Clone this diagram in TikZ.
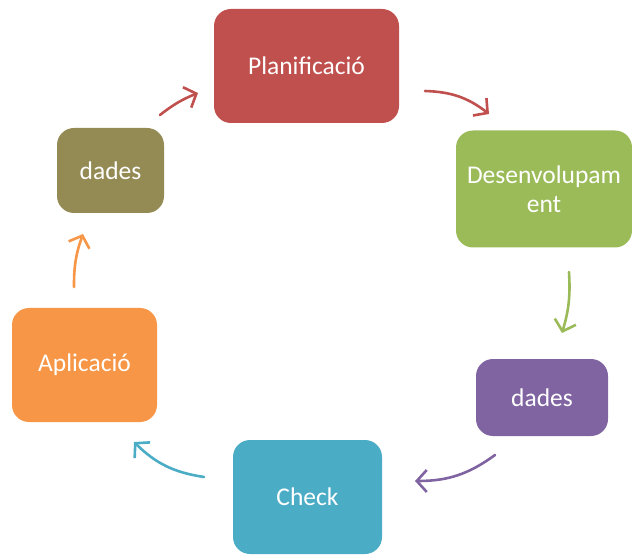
\documentclass[tikz,border=0pt]{standalone}
\usepackage{fontspec}
\setmainfont{Carlito}
\usetikzlibrary{arrows.meta}

\definecolor{cRed}{HTML}{C0504D}
\definecolor{cGreen}{HTML}{9BBB59}
\definecolor{cPurple}{HTML}{8064A2}
\definecolor{cBlue}{HTML}{4BACC6}
\definecolor{cOrange}{HTML}{F79646}
\definecolor{cOlive}{HTML}{948A54}

\tikzset{
  stage/.style={rounded corners=17pt, inner sep=0pt, text=white, align=center,
    font=\fontsize{25.5}{29}\selectfont},
  flow/.style={line width=2.6pt, line cap=round,
    -{Straight Barb[length=10pt,width=22pt,line width=2.6pt]}},
}

\begin{document}
\begin{tikzpicture}[x=1pt,y=1pt]
  \useasboundingbox (0,0) rectangle (632,555);

  % cycle stages
  \node[stage, fill=cRed,    minimum width=185pt, minimum height=114pt] (plan)   at (306.5,489)  {Planificació};
  \node[stage, fill=cGreen,  minimum width=176pt, minimum height=117pt] (des)    at (544,366)    {Desenvolupam\\ent};
  \node[stage, fill=cPurple, minimum width=132pt, minimum height=77pt]  (dadesB) at (542,157.5)  {dades};
  \node[stage, fill=cBlue,   minimum width=149pt, minimum height=114pt] (check)  at (307.5,58)   {Check};
  \node[stage, fill=cOrange, minimum width=145pt, minimum height=114pt] (aplic)  at (84.5,190)   {Aplicació};
  \node[stage, fill=cOlive,  minimum width=107pt, minimum height=85pt]  (dadesA) at (110.5,384.5) {dades};

  % arrow end points between the stages
  \coordinate (a1s) at (160,440); \coordinate (a1e) at (198,462);
  \coordinate (a2s) at (425,464); \coordinate (a2e) at (489,441);
  \coordinate (a3s) at (569,283); \coordinate (a3e) at (562,222);
  \coordinate (a4s) at (495,100); \coordinate (a4e) at (415,74);
  \coordinate (a5s) at (204,78);  \coordinate (a5e) at (134,113);
  \coordinate (a6s) at (74,268);  \coordinate (a6e) at (83,321);

  \draw[flow, cRed]    (a1s) to[bend left=8]  (a1e);
  \draw[flow, cRed]    (a2s) to[bend left=18] (a2e);
  \draw[flow, cGreen]  (a3s) to[bend left=10] (a3e);
  \draw[flow, cPurple] (a4s) to[bend left=18] (a4e);
  \draw[flow, cBlue]   (a5s) to[bend left=18] (a5e);
  \draw[flow, cOrange] (a6s) to[bend left=10] (a6e);
\end{tikzpicture}
\end{document}
